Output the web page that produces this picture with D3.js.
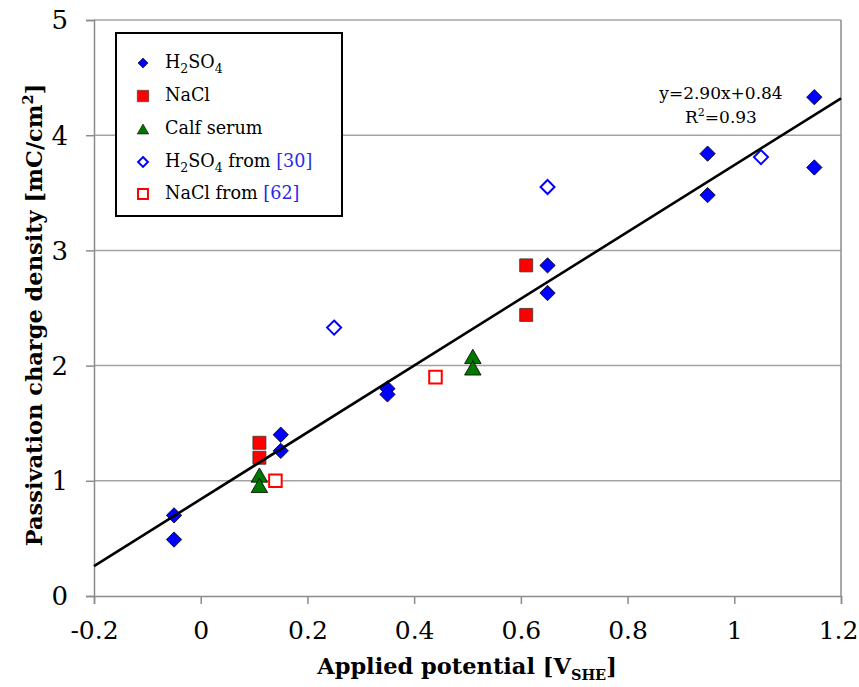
<!DOCTYPE html>
<html>
<head>
<meta charset="utf-8">
<script src="https://cdn.jsdelivr.net/npm/d3@7"></script>
<style>
  html, body { margin: 0; padding: 0; background: #fff; }
  svg { display: block; }
  text { font-family: "DejaVu Serif", serif; fill: #000; }
</style>
</head>
<body>
<svg id="chart" width="859" height="687"></svg>
<script>
// Passivation charge density vs applied potential
const h2so4X = [-0.05, -0.05, 0.15, 0.15, 0.35, 0.35, 0.65, 0.65, 0.95, 0.95, 1.15, 1.15];
const h2so4Y = [0.70, 0.49, 1.40, 1.26, 1.80, 1.75, 2.87, 2.63, 3.84, 3.48, 4.33, 3.72];
const naclX = [0.11, 0.11, 0.61, 0.61];
const naclY = [1.33, 1.20, 2.87, 2.44];
const serumX = [0.11, 0.11, 0.51, 0.51];
const serumY = [1.05, 0.96, 2.08, 1.98];
const h2so4RefX = [0.25, 0.65, 1.05];
const h2so4RefY = [2.33, 3.55, 3.81];
const naclRefX = [0.14, 0.44];
const naclRefY = [1.00, 1.90];
const fitSlope = 2.90, fitIntercept = 0.84, fitR2 = 0.93;
const xTicks = [-0.2, 0, 0.2, 0.4, 0.6, 0.8, 1, 1.2];
const yTicks = [0, 1, 2, 3, 4, 5];

const svg = d3.select("#chart");
const plotL = 94, plotR = 841, plotT = 20, plotB = 596;
const x = d3.scaleLinear().domain([-0.2, 1.2]).range([plotL, plotR]);
const y = d3.scaleLinear().domain([0, 5]).range([plotB, plotT]);

const BLUE = "#0000ff", RED = "#ff0000", GREEN = "#007800";
const AXIS = "#8c8c8c", GRID = "#a3a3a3";

// horizontal gridlines
svg.append("g").selectAll("line").data(yTicks.filter(d => d > 0)).join("line")
  .attr("x1", plotL).attr("x2", plotR)
  .attr("y1", d => y(d)).attr("y2", d => y(d))
  .attr("stroke", GRID).attr("stroke-width", 1.5);

// right border
svg.append("line").attr("x1", plotR).attr("x2", plotR).attr("y1", plotT).attr("y2", plotB)
  .attr("stroke", AXIS).attr("stroke-width", 1.5);

// axes
const xAxis = svg.append("g").attr("transform", `translate(0,${plotB})`)
  .call(d3.axisBottom(x).tickValues(xTicks).tickSize(8).tickPadding(10)
    .tickFormat(d => String(+d.toFixed(1))));
xAxis.select(".domain").attr("stroke", AXIS).attr("stroke-width", 1.5);
xAxis.selectAll(".tick line").attr("stroke", AXIS).attr("stroke-width", 1.5);
xAxis.selectAll(".tick text")
  .attr("font-size", 25).attr("font-family", "Liberation Serif")
  .attr("dy", null).attr("y", 43)
  // keep the last label inside the page edge
  .attr("x", (d, i, nodes) => i === nodes.length - 1 ? -3 : 0);

const yAxis = svg.append("g").attr("transform", `translate(${plotL},0)`)
  .call(d3.axisLeft(y).tickValues(yTicks).tickSize(8).tickPadding(18)
    .tickFormat(d3.format("d")));
yAxis.select(".domain").attr("stroke", AXIS).attr("stroke-width", 1.5);
yAxis.selectAll(".tick line").attr("stroke", AXIS).attr("stroke-width", 1.5);
yAxis.selectAll(".tick text").attr("font-size", 26).attr("font-family", "Liberation Serif")
  .attr("dy", "0.34em");

// axis titles
const xt = svg.append("text").attr("text-anchor", "middle")
  .attr("x", 467).attr("y", 674)
  .attr("font-size", 22.5).attr("font-weight", "bold");
xt.append("tspan").text("Applied potential [V");
xt.append("tspan").attr("font-size", 14.5).attr("dy", 6).text("SHE");
xt.append("tspan").attr("dy", -6).text("]");

const yt = svg.append("text").attr("text-anchor", "middle")
  .attr("transform", "translate(42,315) rotate(-90)")
  .attr("font-size", 22.5).attr("font-weight", "bold");
yt.append("tspan").text("Passivation charge density [mC/cm");
yt.append("tspan").attr("font-size", 14.5).attr("dy", -9).text("2");
yt.append("tspan").attr("dy", 9).text("]");

// marker symbols; triangles are shifted so their bounding box is centred on the point
const sym = {
  diamond: s => d3.symbol(d3.symbolDiamond2, s)(),
  square: s => d3.symbol(d3.symbolSquare2, s)(),
  triangle: s => d3.symbol(d3.symbolTriangle2, s)()
};
const symOffset = (shape, s) => shape === "triangle" ? Math.sqrt(s) * 0.6824 / 4 : 0;

function plot(xs, ys, shape, size, fill, stroke, sw) {
  const dy = symOffset(shape, size);
  svg.append("g").selectAll("path").data(xs.map((v, i) => [v, ys[i]])).join("path")
    .attr("d", sym[shape](size))
    .attr("transform", d => `translate(${x(d[0])},${y(d[1]) + dy})`)
    .attr("fill", fill).attr("stroke", stroke).attr("stroke-width", sw);
}

plot(h2so4X, h2so4Y, "diamond", 150, BLUE, "#000", 0.8);
plot(naclX, naclY, "square", 215, RED, "#333", 0.8);
plot(serumX, serumY, "triangle", 195, GREEN, "#000", 0.8);
plot(h2so4RefX, h2so4RefY, "diamond", 125, "#fff", BLUE, 2);
plot(naclRefX, naclRefY, "square", 200, "#fff", RED, 2);

// regression line
const fitX = [-0.2, 1.2];
svg.append("path")
  .attr("d", d3.line().x(d => x(d)).y(d => y(fitSlope * d + fitIntercept))(fitX))
  .attr("fill", "none").attr("stroke", "#000").attr("stroke-width", 2.6);

// fit annotation
svg.append("text").attr("x", 721).attr("y", 99).attr("text-anchor", "middle")
  .attr("font-size", 17).text(`y=${fitSlope.toFixed(2)}x+${fitIntercept.toFixed(2)}`);
const r2 = svg.append("text").attr("x", 721).attr("y", 123).attr("text-anchor", "middle")
  .attr("font-size", 17);
r2.append("tspan").text("R");
r2.append("tspan").attr("font-size", 11).attr("dy", -7).text("2");
r2.append("tspan").attr("dy", 7).text(`=${fitR2.toFixed(2)}`);

// legend
const lg = svg.append("g");
lg.append("rect").attr("x", 116).attr("y", 33).attr("width", 226).attr("height", 183)
  .attr("fill", "#fff").attr("stroke", "#000").attr("stroke-width", 2);
const legendItems = [
  { shape: "diamond", size: 64, fill: BLUE, stroke: "#000", sw: 0.6, label: [["H"], ["2", "sub"], ["SO"], ["4", "sub"]] },
  { shape: "square", size: 165, fill: RED, stroke: "#333", sw: 0.6, label: [["NaCl"]] },
  { shape: "triangle", size: 93, fill: GREEN, stroke: "#000", sw: 0.6, label: [["Calf serum"]] },
  { shape: "diamond", size: 62, fill: "#fff", stroke: BLUE, sw: 2, label: [["H"], ["2", "sub"], ["SO"], ["4", "sub"], [" from "], ["[30]", "ref"]] },
  { shape: "square", size: 125, fill: "#fff", stroke: RED, sw: 2, label: [["NaCl from "], ["[62]", "ref"]] }
];
const rowY = [63, 96, 129, 162, 194];
legendItems.forEach((it, i) => {
  lg.append("path").attr("d", sym[it.shape](it.size))
    .attr("transform", `translate(143,${rowY[i] + symOffset(it.shape, it.size)})`)
    .attr("fill", it.fill).attr("stroke", it.stroke).attr("stroke-width", it.sw);
  const t = lg.append("text").attr("x", 165).attr("y", rowY[i] + 5).attr("font-size", 17.6);
  let shifted = false;
  it.label.forEach(([s, kind]) => {
    const ts = t.append("tspan").text(s);
    if (kind === "sub") {
      ts.attr("font-size", 12.5).attr("dy", shifted ? 0 : 5);
      shifted = true;
    } else {
      if (shifted) { ts.attr("dy", -5); shifted = false; }
      if (kind === "ref") ts.attr("fill", "#2a2ae6");
    }
  });
});
</script>
</body>
</html>
